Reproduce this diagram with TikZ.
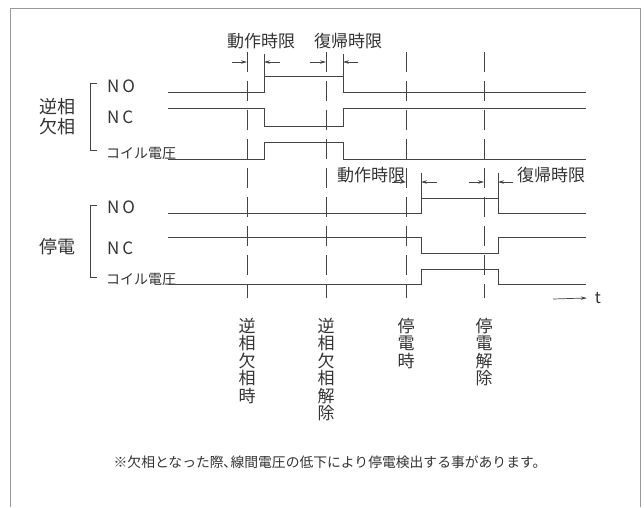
\documentclass[tikz,border=0pt]{standalone}
\usepackage{fontspec}
\setmainfont{Noto Sans CJK JP}
\usepackage{tikz}
\usetikzlibrary{positioning,arrows.meta}
\definecolor{palLine}{HTML}{444444}
\definecolor{palText}{HTML}{333333}
\definecolor{palFrame}{HTML}{9A9A9A}
\tikzset{
  sigline/.style={palLine, line width=0.9pt},
  phaseline/.style={palLine, line width=0.8pt, dash pattern=on 20pt off 9pt},
  timearrow/.style={palLine, line width=0.7pt, -{Stealth[length=6pt,width=3.5pt]}},
  sigtag/.style={text=palText, font=\fontsize{17}{17}\selectfont, inner sep=0pt,
                 anchor=west},
  coiltag/.style={sigtag, font=\fontsize{14}{14}\selectfont},
  grouptag/.style={text=palText, font=\fontsize{18}{20}\selectfont, align=center,
                   inner sep=0pt},
  limittag/.style={text=palText, font=\fontsize{17}{17}\selectfont, inner sep=0pt},
  eventtag/.style={text=palText, font=\fontsize{17}{17.5}\selectfont, align=center,
                   inner sep=0pt, anchor=north},
}

\begin{document}
\begin{tikzpicture}[x=1pt, y=-1pt]
\def\xStart{168}   % left end of signal lines
\def\xEnd{586}     % right end of signal lines
\def\xRevUp{264}   % relay change, 逆相欠相
\def\xRevDn{343}
\def\xPwrUp{421}   % relay change, 停電
\def\xPwrDn{498}
\def\yTopArr{62}   % y-position for upper time arrows
\def\yLowArr{182}  % y-position for lower time arrows

\useasboundingbox (0,0) rectangle (644,507);

%% Frame
\draw[palFrame, line width=1pt] (10,507) -- (10,8) -- (640,8) -- (640,507);

%% Event lines
\foreach \xe/\nm/\txt in {247/evRevOn/{逆\\相\\欠\\相\\時},
                          326/evRevOff/{逆\\相\\欠\\相\\解\\除},
                          406/evPwrOn/{停\\電\\時},
                          484/evPwrOff/{停\\電\\解\\除}}{
  \draw[phaseline] (\xe,52) -- (\xe,298);
  \coordinate (\nm Top) at (\xe,\yTopArr);
  \coordinate (\nm Low) at (\xe,\yLowArr);
  \node[eventtag] (\nm) at (\xe,318) {\txt};
}

%% 逆相欠相 group
\node[grouptag] (grpRev) at (57,117) {逆相\\欠相};
\draw[sigline, line width=0.8pt] (97,83) -- (90,83) -- (90,150) -- (97,150);
\node[sigtag] (revNO) at (107,86) {N\,O};
\node[sigtag] (revNC) at (107,117) {N\,C};
\node[coiltag] (revCoil) at (106,153) {コイル電圧};
\draw[sigline] (\xStart,92) -| (\xRevUp,76) -| (\xRevDn,92) -- (\xEnd,92);
\draw[sigline] (\xStart,108) -| (\xRevUp,126) -| (\xRevDn,108) -- (\xEnd,108);
\draw[sigline] (\xStart,159) -| (\xRevUp,142) -| (\xRevDn,159) -- (\xEnd,159);
\draw[sigline] (\xRevUp,54) -- (\xRevUp,76);
\draw[sigline] (\xRevDn,54) -- (\xRevDn,76);

%% 停電 group
\node[grouptag] (grpPwr) at (57,247) {停電};
\draw[sigline, line width=0.8pt] (97,205) -- (90,205) -- (90,277) -- (97,277);
\node[sigtag] (pwrNO) at (107,207) {N\,O};
\node[sigtag] (pwrNC) at (107,248) {N\,C};
\node[coiltag] (pwrCoil) at (106,279) {コイル電圧};
\draw[sigline] (\xStart,213) -| (\xPwrUp,198) -| (\xPwrDn,213) -- (\xEnd,213);
\draw[sigline] (\xStart,237) -| (\xPwrUp,253) -| (\xPwrDn,237) -- (\xEnd,237);
\draw[sigline] (\xStart,284) -| (\xPwrUp,269) -| (\xPwrDn,284) -- (\xEnd,284);
\draw[sigline] (\xPwrUp,173) -- (\xPwrUp,198);
\draw[sigline] (\xPwrDn,173) -- (\xPwrDn,198);

%% Time limits
\coordinate (revUpTop) at (\xRevUp,\yTopArr);
\coordinate (revDnTop) at (\xRevDn,\yTopArr);
\coordinate (pwrUpLow) at (\xPwrUp,\yLowArr);
\coordinate (pwrDnLow) at (\xPwrDn,\yLowArr);
\node[limittag] (opTop) at (261,41) {動作時限};
\node[limittag] (rsTop) at (348,41) {復帰時限};
\node[limittag] (opLow) at (371,175) {動作時限};
\node[limittag] (rsLow) at (551,175) {復帰時限};
\draw[timearrow] ([xshift=-15pt]evRevOnTop) -- (evRevOnTop);
\draw[timearrow] ([xshift=16pt]revUpTop) -- (revUpTop);
\draw[timearrow] ([xshift=-16pt]evRevOffTop) -- (evRevOffTop);
\draw[timearrow] ([xshift=15pt]revDnTop) -- (revDnTop);
\draw[timearrow] ([xshift=-14pt]evPwrOnLow) -- (evPwrOnLow);
\draw[timearrow] ([xshift=16pt]pwrUpLow) -- (pwrUpLow);
\draw[timearrow] ([xshift=-15pt]evPwrOffLow) -- (evPwrOffLow);
\draw[timearrow] ([xshift=15pt]pwrDnLow) -- (pwrDnLow);

%% Time axis
\coordinate (tTail) at (553,299);
\node[limittag, font=\fontsize{16}{16}\selectfont] (tLabel) at (598,298) {t};
\draw[timearrow] (tTail) -- ([xshift=-8pt]tLabel.west);

%% Note
\node[limittag, font=\fontsize{13.8}{14}\selectfont] (note) at (330,462)
  {※欠相となった際､線間電圧の低下により停電検出する事があります。};
\end{tikzpicture}
\end{document}
